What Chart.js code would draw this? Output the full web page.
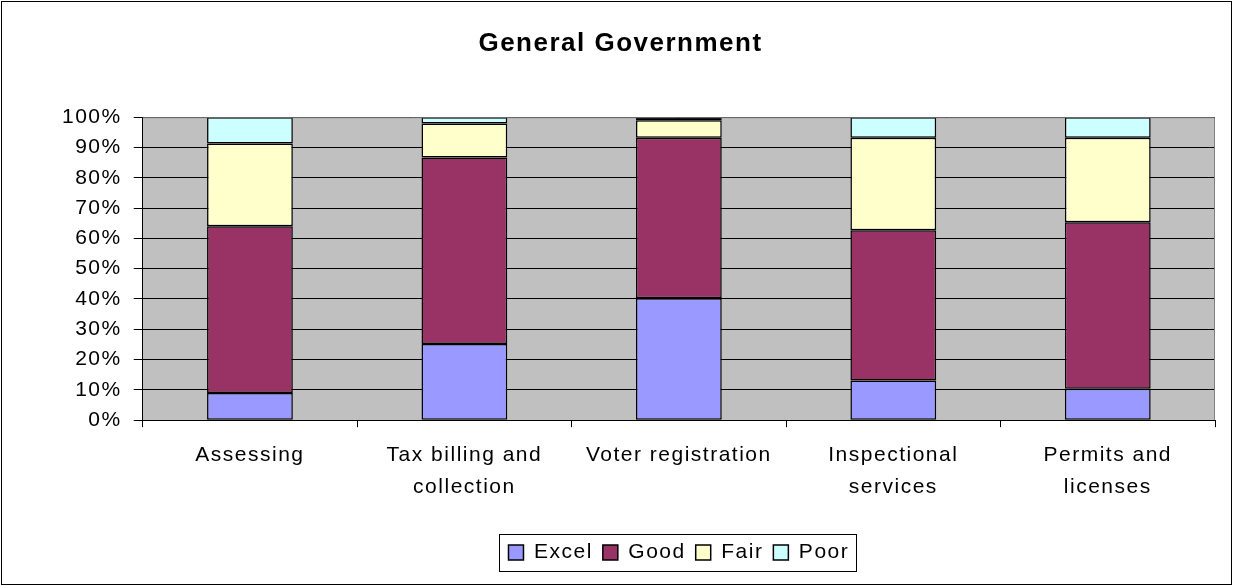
<!DOCTYPE html>
<html>
<head>
<meta charset="utf-8">
<script src="https://cdn.jsdelivr.net/npm/chart.js@4.4.1/dist/chart.umd.min.js"></script>
<style>
    html, body { margin: 0; padding: 0; background: #fff; }
    #wrap { width: 1233px; height: 586px; }
</style>
</head>
<body>
<div id="wrap"><canvas id="govChart"></canvas></div>
<script>
// categories and rating shares (percent of responses)
const categories = [
    ['Assessing'],
    ['Tax billing and', 'collection'],
    ['Voter registration'],
    ['Inspectional', 'services'],
    ['Permits and', 'licenses']
];
const excel = [9, 25.1, 40.2, 13.1, 10.4];
const good = [55, 61.6, 53, 49.6, 54.9];
const fair = [27.3, 11.2, 5.8, 30.5, 27.9];
const poor = [8.7, 2.1, 1, 6.8, 6.8];
const yTicks = [0, 10, 20, 30, 40, 50, 60, 70, 80, 90, 100];

const font = 'Liberation Sans, Arial, sans-serif';

// gray plot background + outer frame + legend box
const excelLook = {
    id: 'excelLook',
    beforeUpdate(chart) {
        chart.ctx.letterSpacing = '1.5px';
    },
    beforeDraw(chart) {
        const { ctx, chartArea: a } = chart;
        ctx.letterSpacing = '1.5px';
        ctx.save();
        ctx.fillStyle = '#c0c0c0';
        ctx.fillRect(a.left, a.top, a.right - a.left, a.bottom - a.top);
        ctx.restore();
    },
    afterDraw(chart) {
        const { ctx, chartArea: a, width, height } = chart;
        ctx.save();
        // right/top edge of plot area
        ctx.strokeStyle = '#808080';
        ctx.lineWidth = 1;
        ctx.beginPath();
        ctx.moveTo(a.left, a.top + 0.5);
        ctx.lineTo(a.right - 0.5, a.top + 0.5);
        ctx.lineTo(a.right - 0.5, a.bottom);
        ctx.stroke();
        // outer frame
        ctx.strokeStyle = '#000';
        ctx.strokeRect(1.5, 1.5, width - 3, height - 3);
        // legend frame
        const boxes = chart.legend.legendHitBoxes;
        if (boxes && boxes.length) {
            const l = Math.min(...boxes.map(b => b.left));
            const r = Math.max(...boxes.map(b => b.left + b.width));
            const t = Math.min(...boxes.map(b => b.top));
            const bt = Math.max(...boxes.map(b => b.top + b.height));
            ctx.strokeStyle = '#000';
            ctx.strokeRect(Math.round(l - 9) + 0.5, Math.round(t - 8) + 0.5, Math.round(r - l + 16), Math.round(bt - t + 16));
        }
        ctx.restore();
    }
};

const makeSet = (label, data, color) => ({
    label: label,
    data: data,
    backgroundColor: color,
    borderColor: '#000',
    borderWidth: 1.5,
    borderSkipped: false,
    barPercentage: 0.4,
    categoryPercentage: 1
});

new Chart(document.getElementById('govChart'), {
    type: 'bar',
    data: {
        labels: categories,
        datasets: [
            makeSet('Excel', excel, '#9999ff'),
            makeSet('Good', good, '#993366'),
            makeSet('Fair', fair, '#ffffcc'),
            makeSet('Poor', poor, '#ccffff')
        ]
    },
    plugins: [excelLook],
    options: {
        responsive: true,
        maintainAspectRatio: false,
        animation: false,
        layout: { padding: { left: 26, right: 18, top: 0, bottom: 13 } },
        plugins: {
            title: {
                display: true,
                text: 'General Government',
                color: '#000',
                font: { family: font, size: 26, weight: 'bold' },
                padding: { top: 28, bottom: 58 }
            },
            legend: {
                position: 'bottom',
                fullSize: false,
                labels: {
                    color: '#000',
                    font: { family: font, size: 21 },
                    boxWidth: 15,
                    boxHeight: 15,
                    padding: 10,
                    generateLabels(chart) {
                        return chart.data.datasets.map((ds, i) => ({
                            text: ds.label,
                            fillStyle: ds.backgroundColor,
                            strokeStyle: '#000',
                            lineWidth: 1.5,
                            datasetIndex: i,
                            hidden: false
                        }));
                    }
                }
            },
            tooltip: { enabled: false }
        },
        scales: {
            x: {
                stacked: true,
                afterFit(scale) {
                    scale.height += 17;
                },
                border: { display: true, color: '#000', width: 1 },
                grid: {
                    offset: true,
                    drawOnChartArea: false,
                    drawTicks: true,
                    tickLength: 7,
                    color: '#000'
                },
                ticks: {
                    color: '#000',
                    font: { family: font, size: 21, lineHeight: 1.52 },
                    padding: 12,
                    maxRotation: 0,
                    autoSkip: false
                }
            },
            y: {
                stacked: true,
                min: 0,
                max: 100,
                afterBuildTicks(axis) {
                    axis.ticks = yTicks.map(v => ({ value: v }));
                },
                afterFit(scale) {
                    scale.width += 24;
                },
                border: { display: true, color: '#000', width: 1 },
                grid: {
                    color: '#000',
                    lineWidth: 1,
                    tickLength: 9
                },
                ticks: {
                    color: '#000',
                    font: { family: font, size: 21 },
                    padding: 12,
                    callback: v => v + '%'
                }
            }
        }
    }
});
</script>
</body>
</html>
